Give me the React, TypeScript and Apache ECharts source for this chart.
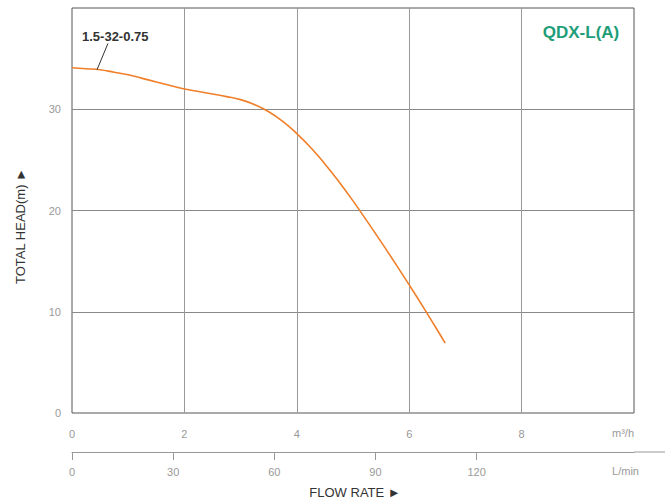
import React, { useEffect, useRef } from 'react';
import * as echarts from 'echarts';

// Pump curve data (flow in m³/h, head in m)
const flowM3h = [0, 0.25, 0.5, 0.75, 1, 1.25, 1.5, 1.75, 2, 2.25, 2.5, 2.75, 3, 3.25, 3.5, 3.75, 4, 4.25, 4.5, 4.75, 5, 5.25, 5.5, 5.75, 6, 6.25, 6.5, 6.64];
const headM = [34.1, 34.0, 33.9, 33.65, 33.4, 33.05, 32.7, 32.35, 32.0, 31.75, 31.5, 31.25, 30.95, 30.45, 29.75, 28.8, 27.6, 26.2, 24.6, 22.85, 20.95, 18.95, 16.9, 14.8, 12.65, 10.45, 8.2, 6.9];

const m3hTicks = [0, 2, 4, 6, 8];
const lpmTicks = [0, 30, 60, 90, 120];
const headTicks = [0, 10, 20, 30];
const M3H_MAX = 10;
const LPM_MAX = (M3H_MAX * 1000) / 60;
const HEAD_MAX = 40;

const modelLabel = '1.5-32-0.75';
const leaderFrom = [0.445, 33.9];
const leaderTo = [0.64, 36.5];
const titleText = 'QDX-L(A)';
const yName = 'TOTAL HEAD(m) ►';
const xName = 'FLOW RATE ►';
const unitM3h = 'm³/h';
const unitLpm = 'L/min';

const FONT = '"Liberation Sans", Arial, sans-serif';

export default function App() {
  const ref = useRef<HTMLDivElement>(null);

  useEffect(() => {
    document.body.style.margin = '0';
    const chart = echarts.init(ref.current!, null, { renderer: 'svg' });
    const gridLeft = 72;
    const gridRight = 31;
    const gridTop = 8;
    const gridBottom = 88;
    const W = 665;
    const H = 501;
    const axisY = H - gridBottom;

    chart.setOption({
      animation: false,
      textStyle: { fontFamily: FONT },
      grid: {
        left: gridLeft,
        right: gridRight,
        top: gridTop,
        bottom: gridBottom,
        show: true,
        borderColor: '#555',
        borderWidth: 1,
        backgroundColor: 'transparent',
      },
      xAxis: [
        {
          type: 'value',
          min: 0,
          max: M3H_MAX,
          interval: 2,
          axisLine: { show: false },
          axisTick: { show: false },
          splitLine: { show: true, showMinLine: false, showMaxLine: false, lineStyle: { color: '#999', width: 1 } },
          axisLabel: {
            customValues: m3hTicks,
            color: '#999',
            fontSize: 11,
            margin: 15,
            fontFamily: FONT,
          },
        },
        {
          type: 'value',
          position: 'bottom',
          offset: 39,
          min: 0,
          max: LPM_MAX,
          interval: 30,
          axisLine: { show: true, lineStyle: { color: '#999', width: 1 } },
          axisTick: { show: true, customValues: lpmTicks, length: 8, inside: false, lineStyle: { color: '#999' } },
          splitLine: { show: false },
          axisLabel: {
            customValues: lpmTicks,
            color: '#999',
            fontSize: 11,
            margin: 14,
            fontFamily: FONT,
          },
        },
      ],
      yAxis: {
        type: 'value',
        min: 0,
        max: HEAD_MAX,
        interval: 10,
        axisLine: { show: false },
        axisTick: { show: false },
        splitLine: { show: true, showMinLine: false, showMaxLine: false, lineStyle: { color: '#888', width: 1 } },
        axisLabel: {
          customValues: headTicks,
          color: '#999',
          fontSize: 11,
          margin: 11,
          fontFamily: FONT,
        },
      },
      series: [
        {
          type: 'line',
          xAxisIndex: 0,
          data: flowM3h.map((x, i) => [x, headM[i]]),
          smooth: 0.5,
          symbol: 'none',
          lineStyle: { color: '#F07F2A', width: 1.6 },
          markLine: {
            silent: true,
            symbol: ['none', 'none'],
            label: { show: false },
            lineStyle: { color: '#333', width: 1, type: 'solid' },
            data: [[{ coord: leaderFrom }, { coord: leaderTo }]],
          },
        },
      ],
      graphic: [
        {
          type: 'line',
          silent: true,
          shape: { x1: W - gridRight, y1: axisY + 39, x2: W, y2: axisY + 39 },
          style: { stroke: '#999', lineWidth: 1 },
        },
        {
          type: 'text',
          x: W - gridRight,
          y: axisY + 20,
          style: { text: unitM3h, fill: '#999', fontSize: 11, fontFamily: FONT, align: 'right', verticalAlign: 'middle' },
        },
        {
          type: 'text',
          x: W - gridRight + 5,
          y: axisY + 58,
          style: { text: unitLpm, fill: '#999', fontSize: 11, fontFamily: FONT, align: 'right', verticalAlign: 'middle' },
        },
        {
          type: 'text',
          x: 82,
          y: 36,
          style: { text: modelLabel, fill: '#333', fontSize: 13, fontWeight: 'bold', fontFamily: FONT, align: 'left', verticalAlign: 'middle' },
        },
        {
          type: 'text',
          x: 581,
          y: 32,
          style: { text: titleText, fill: '#1E9E78', fontSize: 17, fontWeight: 'bold', fontFamily: FONT, align: 'center', verticalAlign: 'middle' },
        },
        {
          type: 'text',
          x: 20,
          y: 226,
          rotation: Math.PI / 2,
          style: { text: yName, fill: '#333', fontSize: 13, fontFamily: FONT, align: 'center', verticalAlign: 'middle' },
        },
        {
          type: 'text',
          x: 355,
          y: 492,
          style: { text: xName, fill: '#333', fontSize: 13, fontFamily: FONT, align: 'center', verticalAlign: 'middle' },
        },
      ],
    });

    return () => chart.dispose();
  }, []);

  return <div ref={ref} style={{ width: 665, height: 501 }} />;
}
